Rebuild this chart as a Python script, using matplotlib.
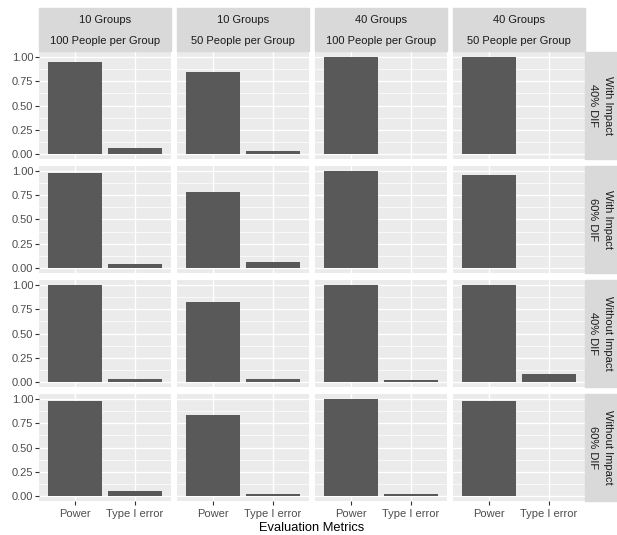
import matplotlib.pyplot as plt
from matplotlib.patches import Rectangle

plt.rcParams["font.family"] = ["Liberation Sans", "DejaVu Sans"]

metrics = ["Power", "Type I error"]
col_groups = ["10 Groups", "10 Groups", "40 Groups", "40 Groups"]
col_people = ["100 People per Group", "50 People per Group",
              "100 People per Group", "50 People per Group"]
row_impact = ["With Impact", "With Impact", "Without Impact", "Without Impact"]
row_dif = ["40% DIF", "60% DIF", "40% DIF", "60% DIF"]

# rows = impact/DIF condition, columns = design
power = [
    [0.95, 0.84, 1.00, 1.00],
    [0.98, 0.78, 1.00, 0.96],
    [1.00, 0.82, 1.00, 1.00],
    [0.98, 0.83, 1.00, 0.98],
]
type1 = [
    [0.06, 0.035, 0.005, 0.005],
    [0.04, 0.06, 0.0, 0.0],
    [0.03, 0.03, 0.02, 0.085],
    [0.055, 0.02, 0.02, 0.0],
]
y_ticks = [0.0, 0.25, 0.5, 0.75, 1.0]

W, H = 617, 535
fig = plt.figure(figsize=(W / 100, H / 100), dpi=100)


def box(x0, y0, x1, y1):
    return [x0 / W, 1 - y1 / H, (x1 - x0) / W, (y1 - y0) / H]


col_x = [39, 177, 315, 453]
row_y = [52, 166, 280, 394]
pw, ph = 132, 107

panel_bg = "#EBEBEB"
strip_bg = "#D9D9D9"
bar_col = "#595959"
tick_txt = "#4D4D4D"
fs = 8.0

for r in range(4):
    for c in range(4):
        ax = fig.add_axes(box(col_x[c], row_y[r], col_x[c] + pw, row_y[r] + ph))
        ax.set_facecolor(panel_bg)
        for s in ax.spines.values():
            s.set_visible(False)
        ax.set_xlim(0.4, 2.6)
        ax.set_ylim(-0.05, 1.05)
        for v in y_ticks:
            ax.axhline(v, color="white", lw=1.0, zorder=0)
        for v in [0.125, 0.375, 0.625, 0.875]:
            ax.axhline(v, color="white", lw=0.5, zorder=0)
        for v in [1, 2]:
            ax.axvline(v, color="white", lw=1.0, zorder=0)
        ax.bar([1, 2], [power[r][c], type1[r][c]], width=0.9, color=bar_col, zorder=2)

        ax.set_yticks(y_ticks)
        ax.set_xticks([1, 2])
        ax.tick_params(length=2.6, width=0.8, color="#333333", labelsize=fs,
                       labelcolor=tick_txt, pad=1.5)
        if c == 0:
            ax.set_yticklabels([f"{v:.2f}" for v in y_ticks])
        else:
            ax.tick_params(axis="y", length=0, labelleft=False)
        if r == 3:
            ax.set_xticklabels(metrics)
            ax.tick_params(axis="x", pad=3)
        else:
            ax.tick_params(axis="x", length=0, labelbottom=False)

# column strips on top
for c in range(4):
    fig.patches.append(Rectangle((col_x[c] / W, 1 - 51 / H), pw / W, 43 / H,
                                 transform=fig.transFigure, color=strip_bg, zorder=0))
    cx = (col_x[c] + pw / 2) / W
    fig.text(cx, 1 - 20 / H, col_groups[c], ha="center", va="center",
             fontsize=fs, color="#1A1A1A")
    fig.text(cx, 1 - 41 / H, col_people[c], ha="center", va="center",
             fontsize=fs, color="#1A1A1A")

# row strips on the right
for r in range(4):
    fig.patches.append(Rectangle((585 / W, 1 - (row_y[r] + ph) / H), 60 / W, ph / H,
                                 transform=fig.transFigure, color=strip_bg, zorder=0))
    cy = 1 - (row_y[r] + ph / 2) / H
    fig.text(593 / W, cy, row_dif[r], ha="center", va="center", rotation=-90,
             fontsize=fs, color="#1A1A1A")
    fig.text(608 / W, cy, row_impact[r], ha="center", va="center", rotation=-90,
             fontsize=fs, color="#1A1A1A")

fig.text((col_x[0] + col_x[3] + pw) / 2 / W, 1 - 528 / H, "Evaluation Metrics",
         ha="center", va="center", fontsize=9.3, color="black")

fig.savefig("out.png", dpi=100, facecolor="white")
